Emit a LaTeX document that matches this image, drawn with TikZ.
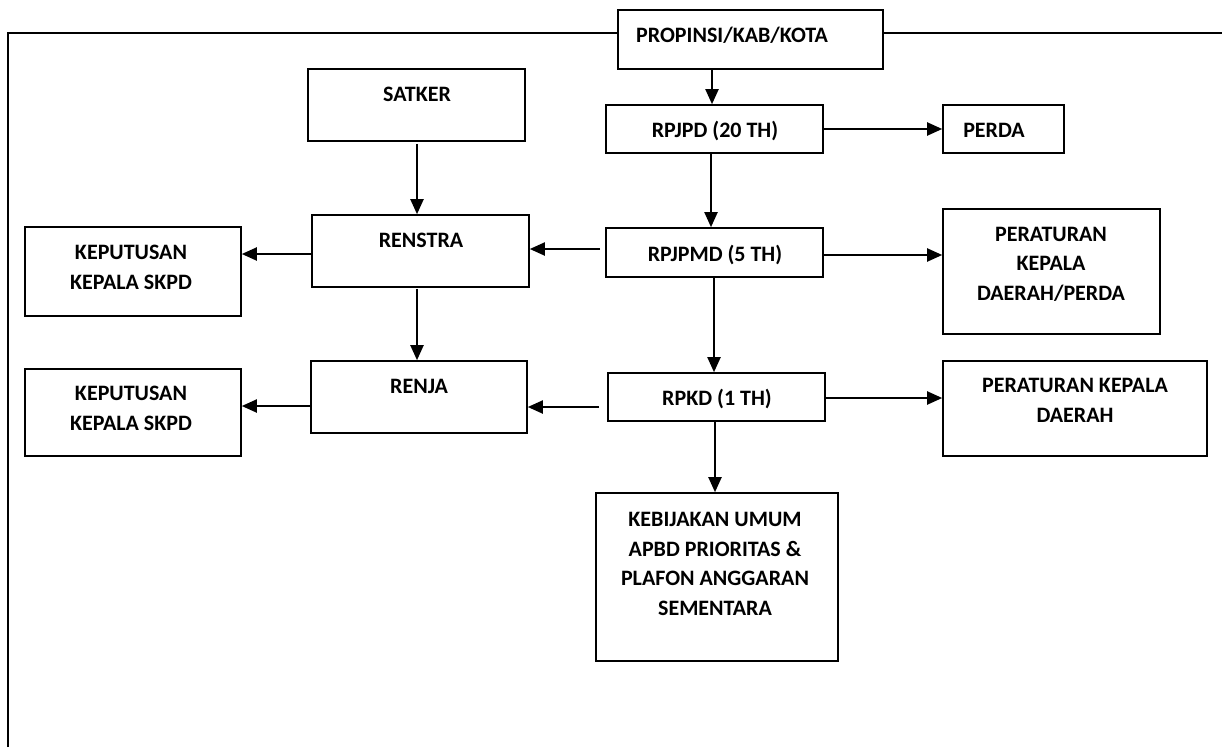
\documentclass[tikz,border=0pt]{standalone}
\usepackage{fontspec}
\setmainfont{Carlito}
\usetikzlibrary{arrows.meta}
\begin{document}
\begin{tikzpicture}[x=1pt,y=-1pt,
  box/.style={draw=black,line width=1.6pt,inner sep=0pt},
  lbl/.style={font=\bfseries\fontsize{22}{29.5}\selectfont,align=center,inner sep=0pt,anchor=base},
  arr/.style={line width=2pt,-{Triangle[length=15pt,width=13pt]}},
  frameline/.style={line width=1.6pt}]
\useasboundingbox (0,0) rectangle (1222,747);
% boxes
\node[box,minimum width=265pt,minimum height=59pt] (prop) at (750.5,39.5) {};
\node[box,minimum width=217pt,minimum height=48pt] (rpjpd) at (714.5,129) {};
\node[box,minimum width=121pt,minimum height=48pt] (perda) at (1003.5,129) {};
\node[box,minimum width=217pt,minimum height=72pt] (satker) at (416.5,105) {};
\node[box,minimum width=217pt,minimum height=49pt] (rpjpmd) at (714.5,252.5) {};
\node[box,minimum width=217pt,minimum height=72pt] (renstra) at (420.5,251) {};
\node[box,minimum width=216pt,minimum height=89pt] (kep1) at (133,271.5) {};
\node[box,minimum width=217pt,minimum height=125pt] (per1) at (1051.5,271.5) {};
\node[box,minimum width=217pt,minimum height=48pt] (rpkd) at (716.5,397) {};
\node[box,minimum width=216pt,minimum height=72pt] (renja) at (419,397) {};
\node[box,minimum width=216pt,minimum height=87pt] (kep2) at (133,412.5) {};
\node[box,minimum width=264pt,minimum height=95pt] (per2) at (1075,408.5) {};
\node[box,minimum width=242pt,minimum height=168pt] (keb) at (717,577) {};
% texts (multi-line: base = last line)
\node[lbl] (propT) at (732,42) {PROPINSI/KAB/KOTA};
\node[lbl] (rpjpdT) at (715,137) {RPJPD (20 TH)};
\node[lbl] (perdaT) at (994,137) {PERDA};
\node[lbl] (satkerT) at (417,101) {SATKER};
\node[lbl] (rpjpmdT) at (715,261) {RPJPMD (5 TH)};
\node[lbl] (renstraT) at (421,247) {RENSTRA};
\node[lbl] (kep1T) at (131,289) {KEPUTUSAN\\KEPALA SKPD};
\node[lbl] (per1T) at (1051,300) {PERATURAN\\KEPALA\\DAERAH/PERDA};
\node[lbl] (rpkdT) at (717,405) {RPKD (1 TH)};
\node[lbl] (renjaT) at (419,393) {RENJA};
\node[lbl] (kep2T) at (131,430) {KEPUTUSAN\\KEPALA SKPD};
\node[lbl] (per2T) at (1075,422) {PERATURAN KEPALA\\DAERAH};
\node[lbl] (kebT) at (715,615) {KEBIJAKAN UMUM\\APBD PRIORITAS \&\\PLAFON ANGGARAN\\SEMENTARA};
% frame
\coordinate (ftl) at (8,33);
\coordinate (fbl) at (8,747);
\coordinate (ftr) at (1222,33);
\draw[frameline] (fbl) -- (ftl) -- (ftl -| prop.west);
\draw[frameline] (ftl -| prop.east) -- (ftr);
% arrows
\coordinate (a1) at ([xshift=-38.5pt]prop.south);
\draw[arr] (a1) -- (a1 |- rpjpd.north);
\draw[arr] (rpjpd.east) -- (perda.west);
\coordinate (a2) at ([xshift=-3.5pt]rpjpd.south);
\draw[arr] (a2) -- (a2 |- rpjpmd.north);
\coordinate (a3) at ([yshift=-2.5pt]rpjpmd.east);
\draw[arr] (a3) -- (a3 -| per1.west);
\coordinate (a4) at ([xshift=-5pt,yshift=3.5pt]rpjpmd.west);
\draw[arr] (a4) -- (a4 -| renstra.east);
\coordinate (a5) at ([xshift=0.5pt,yshift=-2pt]satker.south);
\draw[arr] (a5) -- (a5 |- renstra.north);
\coordinate (a6) at ([yshift=-3pt]renstra.west);
\draw[arr] (a6) -- (a6 -| kep1.east);
\coordinate (a7) at ([xshift=-3.5pt,yshift=-1pt]renstra.south);
\draw[arr] (a7) -- (a7 |- renja.north);
\coordinate (a8) at ([xshift=-0.5pt]rpjpmd.south);
\draw[arr] (a8) -- (a8 |- rpkd.north);
\coordinate (a9) at ([yshift=-1pt]rpkd.east);
\draw[arr] (a9) -- (a9 -| per2.west);
\coordinate (a10) at ([xshift=-8pt,yshift=-10pt]rpkd.west);
\draw[arr] (a10) -- (a10 -| renja.east);
\coordinate (a11) at ([yshift=-9pt]renja.west);
\draw[arr] (a11) -- (a11 -| kep2.east);
\coordinate (a12) at ([xshift=-1.5pt]rpkd.south);
\draw[arr] (a12) -- (a12 |- keb.north);
\end{tikzpicture}
\end{document}
